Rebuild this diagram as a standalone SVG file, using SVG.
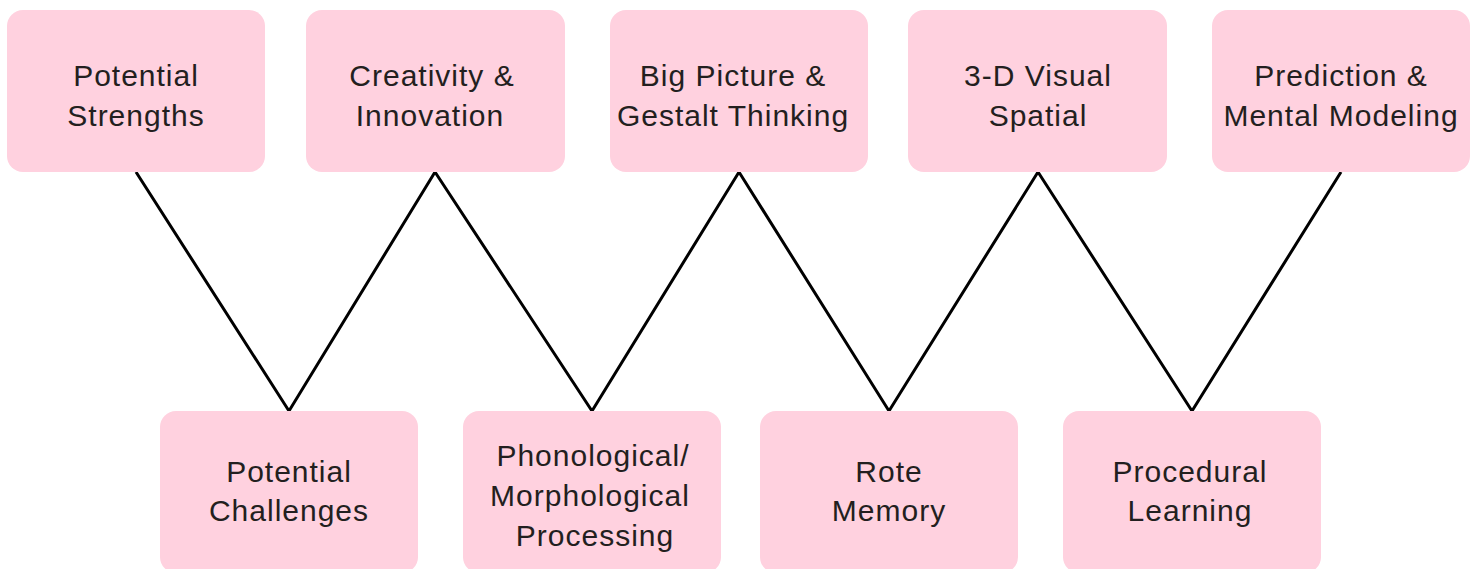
<svg xmlns="http://www.w3.org/2000/svg" width="1479" height="569" viewBox="0 0 1479 569">
<style>
.box{fill:#FFD1DF;}
.t{font-family:"Liberation Sans",Arial,sans-serif;font-size:30px;fill:#231F20;text-anchor:middle;letter-spacing:1px;}
.c{fill:none;stroke:#000;stroke-width:3;stroke-linejoin:miter;}
</style>
<rect width="1479" height="569" fill="#fff"/>
<g id="connectors">
<polyline class="c" points="136,172 289,411 435,172 592,411 739,172 889,411 1038,172 1192,411 1341,172"/>
</g>
<g id="n1"><rect class="box" x="7" y="10" width="258" height="162" rx="16"/><text class="t" x="136"><tspan x="136" y="86">Potential</tspan><tspan x="136" y="126">Strengths</tspan></text></g>
<g id="n2"><rect class="box" x="306" y="10" width="259" height="162" rx="16"/><text class="t"><tspan x="432" y="86">Creativity &amp;</tspan><tspan x="430" y="126">Innovation</tspan></text></g>
<g id="n3"><rect class="box" x="610" y="10" width="258" height="162" rx="16"/><text class="t"><tspan x="733" y="86">Big Picture &amp;</tspan><tspan x="733" y="126">Gestalt Thinking</tspan></text></g>
<g id="n4"><rect class="box" x="908" y="10" width="259" height="162" rx="16"/><text class="t"><tspan x="1038" y="86">3-D Visual</tspan><tspan x="1038" y="126">Spatial</tspan></text></g>
<g id="n5"><rect class="box" x="1212" y="10" width="258" height="162" rx="16"/><text class="t"><tspan x="1341" y="86">Prediction &amp;</tspan><tspan x="1341" y="126">Mental Modeling</tspan></text></g>
<g id="n6"><rect class="box" x="160" y="411" width="258" height="162" rx="16"/><text class="t"><tspan x="289" y="482">Potential</tspan><tspan x="289" y="521">Challenges</tspan></text></g>
<g id="n7"><rect class="box" x="463" y="411" width="258" height="162" rx="16"/><text class="t"><tspan x="593" y="466">Phonological/</tspan><tspan x="590" y="506">Morphological</tspan><tspan x="595" y="546">Processing</tspan></text></g>
<g id="n8"><rect class="box" x="760" y="411" width="258" height="162" rx="16"/><text class="t"><tspan x="889" y="482">Rote</tspan><tspan x="889" y="521">Memory</tspan></text></g>
<g id="n9"><rect class="box" x="1063" y="411" width="258" height="162" rx="16"/><text class="t"><tspan x="1190" y="482">Procedural</tspan><tspan x="1190" y="521">Learning</tspan></text></g>
</svg>
